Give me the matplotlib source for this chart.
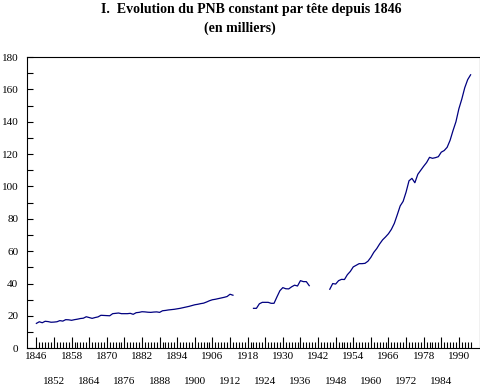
import matplotlib.pyplot as plt
from matplotlib.ticker import MultipleLocator, FixedLocator
import numpy as np

plt.rcParams['font.family'] = ['Liberation Serif', 'DejaVu Serif']

# PNB constant par tete (milliers), trois periodes sans les guerres
years_1 = list(range(1846, 1914))
pnb_1 = [15.4, 16.4, 15.8, 16.7, 16.5, 16.1, 16.2, 16.4, 17.1, 16.8,
         17.7, 17.6, 17.3, 17.7, 18.0, 18.4, 18.6, 19.5, 19.0, 18.5,
         19.0, 19.4, 20.4, 20.3, 20.2, 20.1, 21.4, 21.6, 21.8, 21.4,
         21.4, 21.4, 21.6, 21.0, 22.0, 22.2, 22.6, 22.5, 22.3, 22.2,
         22.4, 22.5, 22.2, 23.2, 23.4, 23.7, 23.9, 24.1, 24.4, 24.7,
         25.1, 25.5, 25.9, 26.4, 26.9, 27.2, 27.6, 27.9, 28.6, 29.4,
         30.0, 30.3, 30.7, 31.1, 31.5, 32.0, 33.4, 32.8]

years_2 = list(range(1920, 1940))
pnb_2 = [24.7, 24.7, 27.5, 28.4, 28.4, 28.4, 27.8, 27.8, 31.8, 35.6,
         37.5, 36.8, 36.7, 38.0, 39.0, 38.5, 41.8, 41.2, 41.2, 38.7]

years_3 = list(range(1946, 1995))
pnb_3 = [36.5, 40.0, 39.7, 41.8, 42.6, 42.5, 45.5, 47.5, 50.3, 51.3,
         52.3, 52.3, 52.5, 53.8, 56.2, 59.3, 61.6, 64.5, 67.0, 68.8,
         70.8, 73.5, 77.2, 82.5, 88.0, 90.8, 96.5, 103.5, 105.0, 102.3,
         107.5, 110.0, 112.5, 114.8, 118.0, 117.4, 117.8, 118.4, 121.2, 122.2,
         124.2, 128.5, 134.5, 140.0, 148.0, 154.0, 161.0, 166.0, 169.0]

tick_years = list(range(1846, 1991, 6))
row1_years = tick_years[0::2]   # 1846, 1858, ... 1990
row2_years = tick_years[1::2]   # 1852, 1864, ... 1984
minor_years = list(range(1846, 1995))

fig = plt.figure(figsize=(4.81, 3.86), dpi=100)
ax = fig.add_axes([26.7/481, (386-348.3)/386, (480-26.7)/481, (348.3-57)/386])

for yrs, vals in [(years_1, pnb_1), (years_2, pnb_2), (years_3, pnb_3)]:
    ax.plot(yrs, vals, color='#000080', linewidth=0.9)

ax.set_xlim(1842.7, 1997.2)
ax.set_ylim(0, 180)

ax.set_yticks(range(0, 181, 20))
ax.yaxis.set_minor_locator(MultipleLocator(10))
ax.xaxis.set_major_locator(FixedLocator(tick_years))
ax.xaxis.set_minor_locator(FixedLocator(minor_years))
ax.set_xticklabels([str(y) if y in row1_years else '' for y in tick_years])

ax.tick_params(axis='both', which='both', direction='in', colors='black',
               width=0.8, labelsize=8)
ax.tick_params(axis='y', which='both', length=4, pad=6)
ax.tick_params(axis='x', which='major', length=8, pad=3)
ax.tick_params(axis='x', which='minor', length=4)

# second row of year labels
sec = ax.secondary_xaxis('bottom')
sec.set_xticks(row2_years)
sec.set_xticklabels([str(y) for y in row2_years])
sec.tick_params(length=0, pad=21, labelsize=8)
sec.spines['bottom'].set_visible(False)

for sp in ax.spines.values():
    sp.set_linewidth(0.8)
    sp.set_color('black')

fig.text(251/481, 1 - 10/386, 'I.  Evolution du PNB constant par tête depuis 1846',
         ha='center', va='center', fontsize=10, fontweight='bold')
fig.text(240/481, 1 - 28/386, '(en milliers)',
         ha='center', va='center', fontsize=10, fontweight='bold')

fig.savefig('out.png', dpi=100)
